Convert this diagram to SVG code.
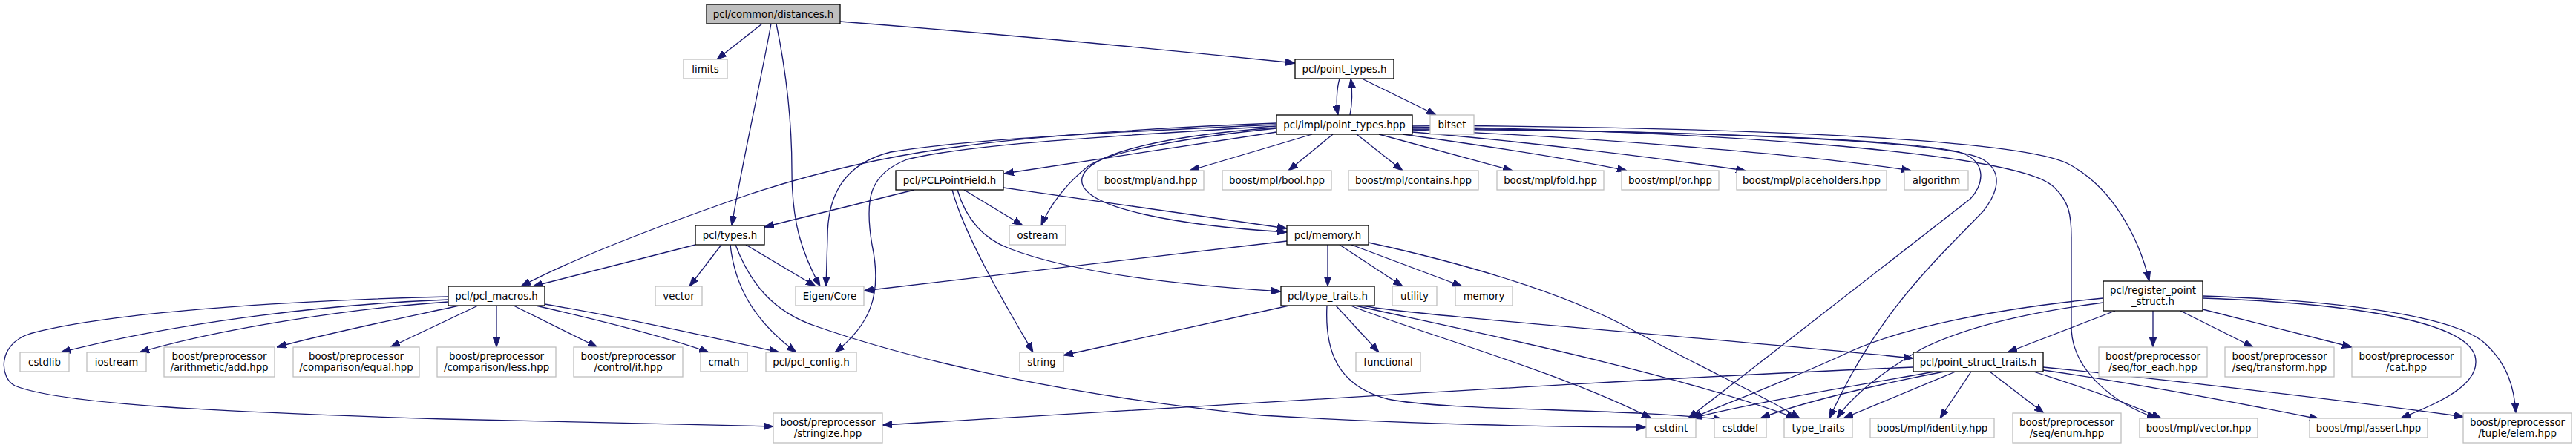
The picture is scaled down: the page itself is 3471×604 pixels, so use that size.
<svg xmlns="http://www.w3.org/2000/svg" width="3471" height="604" viewBox="0 0 3471 604">
<style>
rect{stroke-width:1.3}
.sys rect{fill:#ffffff;stroke:#bfbfbf}
.int rect{fill:#ffffff;stroke:#000000}
.root rect{fill:#bfbfbf;stroke:#000000}
text{font-family:"DejaVu Sans","Liberation Sans",sans-serif;font-size:13.33px;text-anchor:middle;fill:#000000}
.e path{fill:none;stroke:#191970;stroke-width:1.3;marker-end:url(#a)}
</style>
<defs>
<marker id="a" viewBox="0 0 13 10" refX="13" refY="5" markerWidth="13" markerHeight="10" markerUnits="userSpaceOnUse" orient="auto">
<path d="M0,0.3 L13,5 L0,9.7 z" fill="#191970" stroke="#191970" stroke-width="1"/>
</marker>
</defs>
<rect width="3471" height="604" fill="#ffffff"/>
<g class="e" id="edges">
<path d="M1027,32 L966,80"/>
<path d="M1039,32 C1025,110 998,230 986,304"/>
<path d="M1046,32 C1060,100 1067,160 1067,230 C1067,300 1080,340 1105,386"/>
<path d="M1132,29 C1400,50 1600,70 1745,85"/>
<path d="M1805,106 C1801,120 1800,140 1803,155"/>
<path d="M1819,155 C1822,140 1822,120 1820,106"/>
<path d="M1835,106 L1935,155"/>
<path d="M1768,181 L1603,230"/>
<path d="M1796,181 L1736,230"/>
<path d="M1828,181 L1890,230"/>
<path d="M1858,181 L2038,230"/>
<path d="M1890,181 C1990,195 2120,215 2192,230"/>
<path d="M1903,178 C2050,190 2250,215 2352,230"/>
<path d="M1903,175 C2150,185 2450,210 2575,230"/>
<path d="M1903,172 C2100,176 2550,182 2640,205 C2680,218 2672,250 2655,268 L2275,564"/>
<path d="M1903,174 C2200,176 2620,185 2672,215 C2700,232 2692,260 2672,285 C2610,350 2530,420 2465,564"/>
<path d="M1903,169 C2300,171 2710,185 2785,220 C2845,250 2882,320 2896,379"/>
<path d="M1903,171 C2300,176 2710,205 2765,250 C2788,270 2791,290 2791,320 L2791,440 C2791,500 2850,545 2906,564"/>
<path d="M1720,166 C1550,172 1380,185 1290,198 C1200,210 1100,232 1010,262 C900,300 780,345 702,386"/>
<path d="M1720,168 C1500,178 1300,188 1200,205 C1140,220 1115,260 1115,320 L1113,386"/>
<path d="M1720,170 C1500,183 1300,195 1222,215 C1170,235 1165,270 1175,330 C1190,400 1170,440 1125,475"/>
<path d="M1720,178 L1353,234"/>
<path d="M1720,173 C1600,185 1490,205 1465,225 C1440,245 1415,275 1403,304"/>
<path d="M1720,172 C1580,182 1465,205 1458,240 C1450,282 1600,305 1734,313"/>
<path d="M1232,256 L1030,306"/>
<path d="M1299,256 L1378,304"/>
<path d="M1283,256 C1300,320 1360,420 1392,475"/>
<path d="M1290,256 C1300,290 1320,320 1360,335 C1450,370 1600,385 1726,393"/>
<path d="M1352,253 L1734,308"/>
<path d="M937,330 L718,386"/>
<path d="M972,330 L929,386"/>
<path d="M1005,330 L1099,386"/>
<path d="M984,330 C990,385 1015,432 1073,475"/>
<path d="M991,330 C1010,380 1040,420 1100,440 C1200,475 1400,530 1700,560 C1900,572 2100,576 2218,576"/>
<path d="M604,404 C450,410 250,432 82,475"/>
<path d="M604,407 C480,415 300,442 188,475"/>
<path d="M619,412 C560,425 450,447 373,468"/>
<path d="M644,412 L526,468"/>
<path d="M669,412 L669,468"/>
<path d="M692,412 L805,468"/>
<path d="M722,412 C800,430 900,455 955,475"/>
<path d="M734,410 C850,430 960,455 1050,475"/>
<path d="M604,400 C400,405 150,420 40,450 C-5,465 0,510 20,520 C80,545 300,556 600,565 C800,570 950,573 1042,575"/>
<path d="M1789,330 L1789,386"/>
<path d="M1805,330 L1890,386"/>
<path d="M1821,330 L1970,386"/>
<path d="M1734,325 L1164,392"/>
<path d="M1844,327 C1950,350 2100,390 2200,445 C2300,500 2380,535 2425,564"/>
<path d="M1737,412 L1433,479"/>
<path d="M1800,412 L1858,475"/>
<path d="M1788,412 C1785,470 1800,520 1870,538 C1950,555 2200,550 2322,566"/>
<path d="M1835,412 C1900,425 2300,455 2578,483"/>
<path d="M1820,412 C1900,445 2100,500 2225,564"/>
<path d="M1826,412 C1950,440 2250,500 2420,564"/>
<path d="M2901,419 L2901,468"/>
<path d="M2938,419 L3036,468"/>
<path d="M2968,417 L3169,468"/>
<path d="M2968,402 C3150,408 3320,430 3335,480 C3345,520 3280,545 3235,564"/>
<path d="M2968,399 C3150,405 3300,425 3345,460 C3380,490 3388,525 3390,557"/>
<path d="M2850,419 L2705,475"/>
<path d="M2834,402 C2700,415 2560,440 2480,480 C2380,525 2310,550 2280,564"/>
<path d="M2834,408 C2740,420 2650,440 2590,470 C2530,505 2495,535 2475,564"/>
<path d="M2578,495 C2200,510 1600,550 1189,573"/>
<path d="M2607,501 C2500,520 2350,545 2280,564"/>
<path d="M2620,501 C2520,520 2420,545 2372,564"/>
<path d="M2635,501 L2484,564"/>
<path d="M2656,501 L2614,564"/>
<path d="M2681,501 L2754,557"/>
<path d="M2740,501 C2800,520 2870,545 2912,564"/>
<path d="M2753,499 C2900,520 3050,550 3125,565"/>
<path d="M2753,495 C2950,515 3200,545 3320,562"/>
</g>
<g id="n_distances" class="root"><rect x="952" y="6" width="180" height="26"/><text x="1042" y="23.5">pcl/common/distances.h</text></g>
<g id="n_limits" class="sys"><rect x="921" y="80" width="59" height="26"/><text x="950.5" y="97.5">limits</text></g>
<g id="n_point_types_h" class="int"><rect x="1745" y="80" width="133" height="26"/><text x="1811.5" y="97.5">pcl/point_types.h</text></g>
<g id="n_impl_point_types" class="int"><rect x="1720" y="155" width="183" height="26"/><text x="1811.5" y="172.5">pcl/impl/point_types.hpp</text></g>
<g id="n_bitset" class="sys"><rect x="1927" y="155" width="59" height="26"/><text x="1956.5" y="172.5">bitset</text></g>
<g id="n_PCLPointField" class="int"><rect x="1207" y="230" width="145" height="26"/><text x="1279.5" y="247.5">pcl/PCLPointField.h</text></g>
<g id="n_and" class="sys"><rect x="1479" y="230" width="143" height="26"/><text x="1550.5" y="247.5">boost/mpl/and.hpp</text></g>
<g id="n_bool" class="sys"><rect x="1647" y="230" width="147" height="26"/><text x="1720.5" y="247.5">boost/mpl/bool.hpp</text></g>
<g id="n_contains" class="sys"><rect x="1817" y="230" width="175" height="26"/><text x="1904.5" y="247.5">boost/mpl/contains.hpp</text></g>
<g id="n_fold" class="sys"><rect x="2017" y="230" width="144" height="26"/><text x="2089" y="247.5">boost/mpl/fold.hpp</text></g>
<g id="n_or" class="sys"><rect x="2185" y="230" width="131" height="26"/><text x="2250.5" y="247.5">boost/mpl/or.hpp</text></g>
<g id="n_placeholders" class="sys"><rect x="2340" y="230" width="202" height="26"/><text x="2441" y="247.5">boost/mpl/placeholders.hpp</text></g>
<g id="n_algorithm" class="sys"><rect x="2566" y="230" width="86" height="26"/><text x="2609" y="247.5">algorithm</text></g>
<g id="n_types" class="int"><rect x="937" y="304" width="93" height="26"/><text x="983.5" y="321.5">pcl/types.h</text></g>
<g id="n_ostream" class="sys"><rect x="1360" y="304" width="76" height="26"/><text x="1398" y="321.5">ostream</text></g>
<g id="n_memory_h" class="int"><rect x="1734" y="304" width="110" height="26"/><text x="1789" y="321.5">pcl/memory.h</text></g>
<g id="n_pcl_macros" class="int"><rect x="604" y="386" width="130" height="26"/><text x="669" y="403.5">pcl/pcl_macros.h</text></g>
<g id="n_vector" class="sys"><rect x="883" y="386" width="63" height="26"/><text x="914.5" y="403.5">vector</text></g>
<g id="n_eigen" class="sys"><rect x="1072" y="386" width="92" height="26"/><text x="1118" y="403.5">Eigen/Core</text></g>
<g id="n_type_traits_h" class="int"><rect x="1726" y="386" width="126" height="26"/><text x="1789" y="403.5">pcl/type_traits.h</text></g>
<g id="n_utility" class="sys"><rect x="1876" y="386" width="60" height="26"/><text x="1906" y="403.5">utility</text></g>
<g id="n_memory" class="sys"><rect x="1961" y="386" width="77" height="26"/><text x="1999.5" y="403.5">memory</text></g>
<g id="n_register" class="int"><rect x="2834" y="379" width="134" height="40"/><text x="2901" y="396">pcl/register_point</text><text x="2901" y="411">_struct.h</text></g>
<g id="n_cstdlib" class="sys"><rect x="27" y="475" width="66" height="26"/><text x="60" y="492.5">cstdlib</text></g>
<g id="n_iostream" class="sys"><rect x="117" y="475" width="80" height="26"/><text x="157" y="492.5">iostream</text></g>
<g id="n_add" class="sys"><rect x="221" y="468" width="149" height="40"/><text x="295.5" y="485">boost/preprocessor</text><text x="295.5" y="500">/arithmetic/add.hpp</text></g>
<g id="n_equal" class="sys"><rect x="395" y="468" width="170" height="40"/><text x="480" y="485">boost/preprocessor</text><text x="480" y="500">/comparison/equal.hpp</text></g>
<g id="n_less" class="sys"><rect x="589" y="468" width="160" height="40"/><text x="669" y="485">boost/preprocessor</text><text x="669" y="500">/comparison/less.hpp</text></g>
<g id="n_if" class="sys"><rect x="773" y="468" width="147" height="40"/><text x="846.5" y="485">boost/preprocessor</text><text x="846.5" y="500">/control/if.hpp</text></g>
<g id="n_cmath" class="sys"><rect x="944" y="475" width="63" height="26"/><text x="975.5" y="492.5">cmath</text></g>
<g id="n_pcl_config" class="sys"><rect x="1032" y="475" width="122" height="26"/><text x="1093" y="492.5">pcl/pcl_config.h</text></g>
<g id="n_string" class="sys"><rect x="1374" y="475" width="59" height="26"/><text x="1403.5" y="492.5">string</text></g>
<g id="n_functional" class="sys"><rect x="1827" y="475" width="87" height="26"/><text x="1870.5" y="492.5">functional</text></g>
<g id="n_point_struct_traits" class="int"><rect x="2578" y="475" width="175" height="26"/><text x="2665.5" y="492.5">pcl/point_struct_traits.h</text></g>
<g id="n_for_each" class="sys"><rect x="2828" y="468" width="146" height="40"/><text x="2901" y="485">boost/preprocessor</text><text x="2901" y="500">/seq/for_each.hpp</text></g>
<g id="n_transform" class="sys"><rect x="2998" y="468" width="147" height="40"/><text x="3071.5" y="485">boost/preprocessor</text><text x="3071.5" y="500">/seq/transform.hpp</text></g>
<g id="n_cat" class="sys"><rect x="3169" y="468" width="147" height="40"/><text x="3242.5" y="485">boost/preprocessor</text><text x="3242.5" y="500">/cat.hpp</text></g>
<g id="n_stringize" class="sys"><rect x="1042" y="557" width="147" height="40"/><text x="1115.5" y="574">boost/preprocessor</text><text x="1115.5" y="589">/stringize.hpp</text></g>
<g id="n_cstdint" class="sys"><rect x="2218" y="564" width="67" height="26"/><text x="2251.5" y="581.5">cstdint</text></g>
<g id="n_cstddef" class="sys"><rect x="2310" y="564" width="70" height="26"/><text x="2345" y="581.5">cstddef</text></g>
<g id="n_type_traits" class="sys"><rect x="2404" y="564" width="92" height="26"/><text x="2450" y="581.5">type_traits</text></g>
<g id="n_identity" class="sys"><rect x="2520" y="564" width="167" height="26"/><text x="2603.5" y="581.5">boost/mpl/identity.hpp</text></g>
<g id="n_enum" class="sys"><rect x="2712" y="557" width="146" height="40"/><text x="2785" y="574">boost/preprocessor</text><text x="2785" y="589">/seq/enum.hpp</text></g>
<g id="n_vector_hpp" class="sys"><rect x="2883" y="564" width="159" height="26"/><text x="2962.5" y="581.5">boost/mpl/vector.hpp</text></g>
<g id="n_assert" class="sys"><rect x="3112" y="564" width="159" height="26"/><text x="3191.5" y="581.5">boost/mpl/assert.hpp</text></g>
<g id="n_elem" class="sys"><rect x="3319" y="557" width="146" height="40"/><text x="3392" y="574">boost/preprocessor</text><text x="3392" y="589">/tuple/elem.hpp</text></g>
</svg>
